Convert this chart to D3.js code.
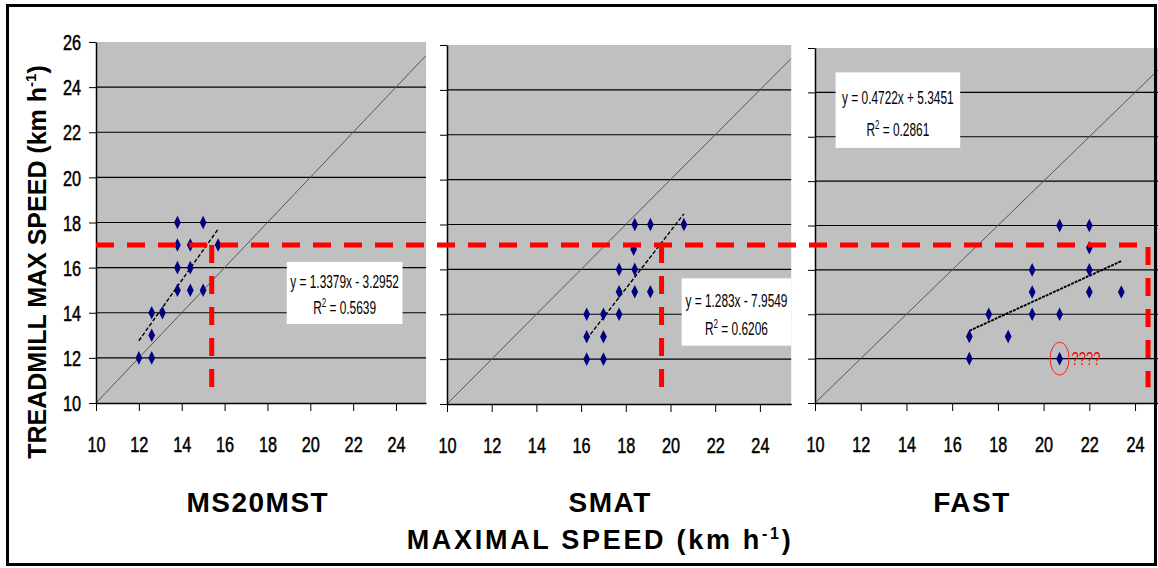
<!DOCTYPE html>
<html>
<head>
<meta charset="utf-8">
<script src="https://cdn.jsdelivr.net/npm/d3@7"></script>
<style>
  body { margin: 0; background: #fff; }
  svg { display: block; }
</style>
</head>
<body>
<div id="chart"></div>
<script>
// ---- data ----
const panelNames = ["MS20MST", "SMAT", "FAST"];
const xTicks = [10, 12, 14, 16, 18, 20, 22, 24];
const yTicks = [10, 12, 14, 16, 18, 20, 22, 24, 26];

const ms20mstX = [13.8, 15.0, 13.8, 14.4, 15.7, 13.8, 14.4, 13.8, 14.4, 15.0, 12.6, 13.1, 12.6, 12.0, 12.6];
const ms20mstY = [18, 18, 17, 17, 17, 16, 16, 15, 15, 15, 14, 14, 13, 12, 12];

const smatX = [18.4, 19.1, 20.6, 18.35, 17.7, 18.4, 17.7, 18.4, 19.1, 16.25, 17.0, 17.7, 16.25, 17.0, 16.25, 17.0];
const smatY = [18, 18, 18, 16.9, 16, 16, 15, 15, 15, 14, 14, 14, 13, 13, 12, 12];

const fastX = [20.7, 22.0, 22.0, 19.5, 22.0, 19.5, 22.0, 23.4, 17.6, 19.5, 20.7, 16.75, 18.45, 16.75, 20.7];
const fastY = [18, 18, 17, 16, 16, 15, 15, 15, 14, 14, 14, 13, 13, 12, 12];

const slopes = [1.3379, 1.283, 0.4722];
const intercepts = [-3.2952, -7.9549, 5.3451];
const eqLabels = ["y = 1.3379x - 3.2952", "y = 1.283x - 7.9549", "y = 0.4722x + 5.3451"];
const r2Labels = ["0.5639", "0.6206", "0.2861"];

const threshold = 17;               // red dashed horizontal
const cutoffs = [15.4, 19.6, 24.57]; // red dashed verticals
const outlier = {x: 20.7, y: 12};   // circled point in FAST

// ---- layout ----
const width = 1158, height = 568;
const panels = [
  {left: 96,  unit: 21.43, top: 42, bottom: 403, box: [18.9, 16.25, 24.3, 13.5], titleAt: 17.55, labels: true},
  {left: 447, unit: 22.35, top: 45, bottom: 404, box: [20.5, 15.6, 25.4, 12.6], titleAt: 17.3, labels: false},
  {left: 815, unit: 22.86, top: 48, bottom: 403, box: [10.9, 24.9, 16.35, 21.5], titleAt: 16.87, labels: false}
];
const seriesX = [ms20mstX, smatX, fastX];
const seriesY = [ms20mstY, smatY, fastY];
const xMax = 25.4;
const squeeze = 0.74; // fake a narrow face

const svg = d3.select("#chart").append("svg")
  .attr("width", width)
  .attr("height", height);

const sans = '"Liberation Sans", Arial, sans-serif';

let scales = [];

panels.forEach((p, i) => {
  let x = d3.scaleLinear().domain([10, xMax]).range([p.left, p.left + (xMax - 10) * p.unit]);
  let y = d3.scaleLinear().domain([10, 26]).range([p.bottom, p.top]);
  scales.push({x, y});

  let g = svg.append("g");

  g.append("clipPath").attr("id", "clip" + i)
    .append("rect")
    .attr("x", x(10)).attr("y", y(26))
    .attr("width", x(xMax) - x(10)).attr("height", y(10) - y(26));

  g.append("rect")
    .attr("x", x(10)).attr("y", y(26))
    .attr("width", x(xMax) - x(10)).attr("height", y(10) - y(26))
    .attr("fill", "#c0c0c0");

  // horizontal gridlines
  g.append("g")
    .selectAll("line")
    .data(yTicks.filter(t => t > 10 && t < 26))
    .join("line")
    .attr("x1", x(10)).attr("x2", x(xMax))
    .attr("y1", d => y(d)).attr("y2", d => y(d))
    .attr("stroke", "#000")
    .attr("stroke-width", 1.2);

  // identity line
  g.append("line")
    .attr("clip-path", `url(#clip${i})`)
    .attr("x1", x(10)).attr("y1", y(10))
    .attr("x2", x(xMax)).attr("y2", y(xMax))
    .attr("stroke", "#555")
    .attr("stroke-width", 1);

  // axes
  let yAxis = d3.axisLeft(y).tickValues(yTicks).tickSize(7).tickSizeOuter(0);
  if (!p.labels) yAxis.tickFormat("");
  g.append("g")
    .attr("transform", `translate(${x(10)},0)`)
    .call(yAxis)
    .call(a => a.select(".domain").attr("stroke-width", 1.5))
    .selectAll("text")
    .attr("x", null).attr("dy", "0.35em")
    .attr("transform", `translate(-15,0) scale(${squeeze},1)`)
    .style("font-family", sans)
    .style("font-size", "22px")
    .style("fill", "#000")
    .style("stroke", "#000").style("stroke-width", 0.5);

  g.append("g")
    .attr("transform", `translate(0,${y(10)})`)
    .call(d3.axisBottom(x).tickValues(xTicks).tickSize(8).tickSizeOuter(0))
    .call(a => a.select(".domain").attr("stroke-width", 1.5))
    .selectAll("text")
    .attr("y", null).attr("dy", null)
    .attr("transform", `translate(0,49) scale(${squeeze},1)`)
    .style("font-family", sans)
    .style("font-size", "22px")
    .style("fill", "#000")
    .style("stroke", "#000").style("stroke-width", 0.5);

  // trend line over data range
  let ext = d3.extent(seriesX[i]);
  g.append("line")
    .attr("x1", x(ext[0])).attr("y1", y(slopes[i] * ext[0] + intercepts[i]))
    .attr("x2", x(ext[1])).attr("y2", y(slopes[i] * ext[1] + intercepts[i]))
    .attr("stroke", "#000")
    .attr("stroke-width", i === 2 ? 2 : 1.4)
    .attr("stroke-dasharray", i === 2 ? "3,1" : "4,2");

  // points
  g.append("g")
    .attr("fill", "#000080")
    .selectAll("path")
    .data(seriesX[i].map((v, k) => [v, seriesY[i][k]]))
    .join("path")
    .attr("transform", d => `translate(${x(d[0])},${y(d[1])}) scale(0.95,1.1)`)
    .attr("d", d3.symbol(d3.symbolDiamond, 44));

  // equation box
  let b = p.box;
  let bx = x(b[0]), by = y(b[1]), bw = x(b[2]) - x(b[0]), bh = y(b[3]) - y(b[1]);
  g.append("rect")
    .attr("x", bx).attr("y", by).attr("width", bw).attr("height", bh)
    .attr("fill", "#fff");
  let t = g.append("text")
    .attr("transform", `translate(${bx + bw / 2},0) scale(0.66,1)`)
    .attr("text-anchor", "middle")
    .style("font-family", sans)
    .style("font-size", "18px");
  t.append("tspan").attr("x", 0).attr("y", by + bh * 0.42).text(eqLabels[i]);
  let t2 = t.append("tspan").attr("x", 0).attr("y", by + bh * 0.84);
  t2.append("tspan").text("R");
  t2.append("tspan").attr("dy", -7).style("font-size", "12px").text("2");
  t2.append("tspan").attr("dy", 7).text(" = " + r2Labels[i]);

  // panel title
  g.append("text")
    .attr("x", x(p.titleAt))
    .attr("y", 512)
    .attr("text-anchor", "middle")
    .style("font-family", sans)
    .style("font-weight", "bold")
    .style("font-size", "28px")
    .style("letter-spacing", "1.5px")
    .text(panelNames[i]);
});

// red dashed reference lines
const s0 = scales[0];
const redY = s0.y(threshold);
const redBottom = s0.y(10.7);
svg.append("path")
  .attr("d", `M${s0.x(10)},${redY}H${scales[2].x(cutoffs[2])}V${redBottom}`)
  .attr("fill", "none")
  .attr("stroke", "#ff0000")
  .attr("stroke-width", 5)
  .attr("stroke-dasharray", "18,13");
[0, 1].forEach(i => {
  svg.append("line")
    .attr("x1", scales[i].x(cutoffs[i])).attr("x2", scales[i].x(cutoffs[i]))
    .attr("y1", redY).attr("y2", redBottom)
    .attr("stroke", "#ff0000")
    .attr("stroke-width", 5)
    .attr("stroke-dasharray", "18,13");
});

// circled outlier
const s2 = scales[2];
svg.append("ellipse")
  .attr("cx", s2.x(outlier.x)).attr("cy", s2.y(outlier.y))
  .attr("rx", 9.5).attr("ry", 16.5)
  .attr("fill", "none")
  .attr("stroke", "#ff2020")
  .attr("stroke-width", 1);
svg.append("text")
  .attr("transform", `translate(${s2.x(outlier.x) + 12},${s2.y(outlier.y) + 6}) scale(0.72,1)`)
  .style("font-family", sans)
  .style("font-size", "18px")
  .style("fill", "#ff0000")
  .text("????");

// axis titles
const xt = svg.append("text")
  .attr("x", 600).attr("y", 549)
  .attr("text-anchor", "middle")
  .style("font-family", sans)
  .style("font-weight", "bold")
  .style("font-size", "27px")
  .style("letter-spacing", "2.7px");
xt.append("tspan").text("MAXIMAL SPEED (km h");
xt.append("tspan").attr("dy", -10).style("font-size", "16px").text("-1");
xt.append("tspan").attr("dy", 10).text(")");

const yt = svg.append("text")
  .attr("transform", "translate(46,262) rotate(-90)")
  .attr("text-anchor", "middle")
  .style("font-family", sans)
  .style("font-weight", "bold")
  .style("font-size", "25px");
yt.append("tspan").text("TREADMILL MAX SPEED (km h");
yt.append("tspan").attr("dy", -10).style("font-size", "15px").text("-1");
yt.append("tspan").attr("dy", 10).text(")");

// outer frame
svg.append("rect")
  .attr("x", 7.5).attr("y", 5.5)
  .attr("width", 1148).attr("height", 559)
  .attr("fill", "none")
  .attr("stroke", "#000")
  .attr("stroke-width", 3);
</script>
</body>
</html>
